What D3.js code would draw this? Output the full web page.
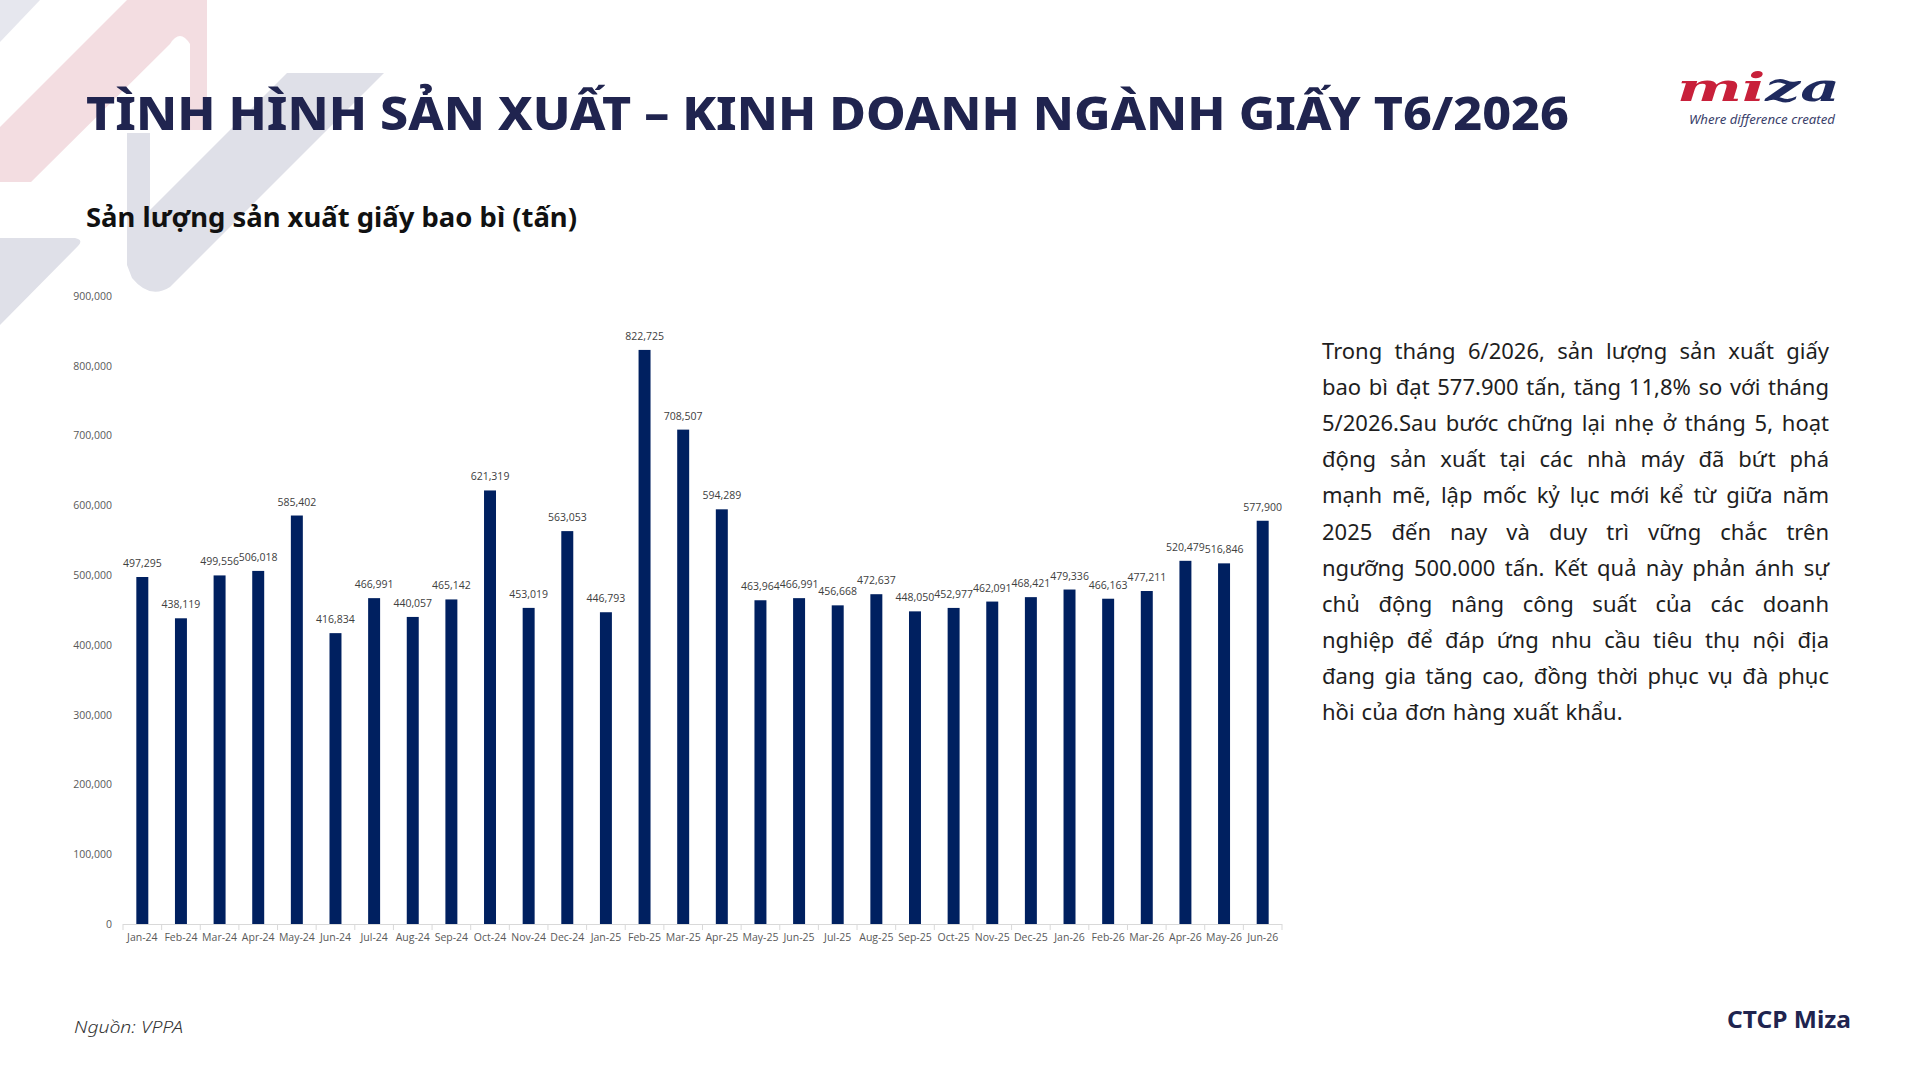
<!DOCTYPE html>
<html>
<head>
<meta charset="utf-8">
<script src="https://cdn.jsdelivr.net/npm/d3@7"></script>
<style>
  body { margin: 0; background: #fff; }
  svg { display: block; }
</style>
</head>
<body>
<svg width="1920" height="1080"></svg>
<script>
// The data:
const months = [
  'Jan-24', 'Feb-24', 'Mar-24', 'Apr-24', 'May-24', 'Jun-24', 'Jul-24', 'Aug-24', 'Sep-24', 'Oct-24',
  'Nov-24', 'Dec-24', 'Jan-25', 'Feb-25', 'Mar-25', 'Apr-25', 'May-25', 'Jun-25', 'Jul-25', 'Aug-25',
  'Sep-25', 'Oct-25', 'Nov-25', 'Dec-25', 'Jan-26', 'Feb-26', 'Mar-26', 'Apr-26', 'May-26', 'Jun-26',
]
const output = [
  497295, 438119, 499556, 506018, 585402, 416834, 466991, 440057, 465142, 621319,
  453019, 563053, 446793, 822725, 708507, 594289, 463964, 466991, 456668, 472637,
  448050, 452977, 462091, 468421, 479336, 466163, 477211, 520479, 516846, 577900,
]
const yTicks = [0, 100000, 200000, 300000, 400000, 500000, 600000, 700000, 800000, 900000]

const title = 'TÌNH HÌNH SẢN XUẤT – KINH DOANH NGÀNH GIẤY T6/2026'
const subtitle = 'Sản lượng sản xuất giấy bao bì (tấn)'
const bodyLines = [
  'Trong tháng 6/2026, sản lượng sản xuất giấy',
  'bao bì đạt 577.900 tấn, tăng 11,8% so với tháng',
  '5/2026.Sau bước chững lại nhẹ ở tháng 5, hoạt',
  'động sản xuất tại các nhà máy đã bứt phá',
  'mạnh mẽ, lập mốc kỷ lục mới kể từ giữa năm',
  '2025 đến nay và duy trì vững chắc trên',
  'ngưỡng 500.000 tấn. Kết quả này phản ánh sự',
  'chủ động nâng công suất của các doanh',
  'nghiệp để đáp ứng nhu cầu tiêu thụ nội địa',
  'đang gia tăng cao, đồng thời phục vụ đà phục',
  'hồi của đơn hàng xuất khẩu.',
]

const svg = d3.select('svg')
const navy = '#20244f'
const txtFont = '"Noto Sans", "Open Sans", sans-serif'
const axisFont = '"Open Sans", "Noto Sans", sans-serif'

// Background shapes in the top-left corner:
const deco = svg.append('g')
deco.append('path').attr('d', 'M0,0 L40,0 L0,42 Z').attr('fill', '#e6e7ee')
deco.append('path')
  .attr('d', 'M0,127 L127,0 L207,0 L207,130 L190,130 L190,44 Q180,28 170,44 L31,182 L0,182 Z')
  .attr('fill', '#f3dde1')
deco.append('path')
  .attr('d', 'M127,133 L150,133 L150,210 L287,73 L384,73 L170,287 Q150,300 132,278 L127,265 Z')
  .attr('fill', '#dfe0e8')
deco.append('path').attr('d', 'M0,238 L75,238 Q84,240 78,246 L0,325 Z').attr('fill', '#dfe0e8')

// Title and subtitle:
svg.append('text')
  .attr('x', 86).attr('y', 130)
  .attr('textLength', 1483).attr('lengthAdjust', 'spacingAndGlyphs')
  .style('font-family', txtFont).style('font-weight', 800).style('font-size', '47px')
  .attr('fill', navy)
  .text(title)

svg.append('text')
  .attr('x', 86).attr('y', 227)
  .attr('textLength', 491).attr('lengthAdjust', 'spacingAndGlyphs')
  .style('font-family', txtFont).style('font-weight', 700).style('font-size', '26px')
  .attr('fill', '#111')
  .text(subtitle)

// Logo:
const logo = svg.append('text')
  .attr('x', 1677).attr('y', 101)
  .attr('textLength', 163).attr('lengthAdjust', 'spacingAndGlyphs')
  .style('font-family', '"DejaVu Serif", serif').style('font-weight', 700)
  .style('font-style', 'italic').style('font-size', '40px')
logo.append('tspan').attr('fill', '#c8203a').text('mi')
logo.append('tspan').attr('fill', '#1f2a5e').text('za')

svg.append('text')
  .attr('x', 1689).attr('y', 124)
  .attr('textLength', 146).attr('lengthAdjust', 'spacingAndGlyphs')
  .style('font-family', txtFont).style('font-style', 'italic').style('font-size', '12px')
  .attr('fill', '#3b3f6b')
  .text('Where difference created')

// Scales:
let xScale = d3.scaleBand().domain(months).range([123, 1282]).paddingInner(0.69).paddingOuter(0.345)
let yScale = d3.scaleLinear().domain([0, 900000]).range([924, 296])

// Bars:
svg.append('g')
  .selectAll('rect')
  .data(months)
  .enter()
  .append('rect')
  .attr('x', (d) => xScale(d))
  .attr('y', (d, i) => yScale(output[i]))
  .attr('width', xScale.bandwidth())
  .attr('height', (d, i) => yScale(0) - yScale(output[i]))
  .attr('fill', '#002060')

// Value labels:
svg.append('g')
  .selectAll('text')
  .data(months)
  .enter()
  .append('text')
  .attr('x', (d) => xScale(d) + xScale.bandwidth() / 2)
  .attr('y', (d, i) => yScale(output[i]) - 10)
  .attr('text-anchor', 'middle')
  .style('font-family', axisFont).style('font-size', '10.5px')
  .attr('fill', '#404040')
  .text((d, i) => d3.format(',')(output[i]))

// Add x-axis:
let xAxis = d3.axisBottom(xScale).tickSize(0).tickPadding(10)
let xAxisG = svg.append('g').attr('transform', 'translate(0,924)').call(xAxis)
xAxisG.select('.domain').attr('stroke', '#d9d9d9').attr('d', 'M123,0.5H1282')
xAxisG.selectAll('text')
  .style('font-family', axisFont).style('font-size', '10.5px').attr('fill', '#595959')

// Tick marks between the categories:
const step = xScale.step()
xAxisG.selectAll('line.sep')
  .data(d3.range(months.length + 1))
  .enter()
  .append('line')
  .attr('class', 'sep')
  .attr('x1', (i) => 123 + i * step).attr('x2', (i) => 123 + i * step)
  .attr('y1', 0).attr('y2', 6)
  .attr('stroke', '#d9d9d9')

// Add y-axis:
let yAxis = d3.axisLeft(yScale).tickValues(yTicks).tickSize(0).tickPadding(11).tickFormat(d3.format(','))
let yAxisG = svg.append('g').attr('transform', 'translate(123,0)').call(yAxis)
yAxisG.select('.domain').remove()
yAxisG.selectAll('text')
  .style('font-family', axisFont).style('font-size', '10.5px').attr('fill', '#595959')

// Commentary text, justified between x=1322 and x=1829:
const left = 1322
const right = 1829
const body = svg.append('g')
  .style('font-family', txtFont).style('font-size', '22px').attr('fill', '#1e1e1e')

bodyLines.forEach((line, li) => {
  const y = 359 + li * 36.1
  const words = line.split(' ')
  const nodes = words.map((w) => body.append('text').attr('y', y).text(w))
  const widths = nodes.map((n) => n.node().getComputedTextLength())
  const isLast = li === bodyLines.length - 1
  const space = isLast ? 7 : (right - left - d3.sum(widths)) / (words.length - 1)
  let x = left
  nodes.forEach((n, i) => {
    n.attr('x', x)
    x += widths[i] + space
  })
})

// Footer:
svg.append('text')
  .attr('x', 74).attr('y', 1033)
  .attr('textLength', 109).attr('lengthAdjust', 'spacingAndGlyphs')
  .style('font-family', txtFont).style('font-style', 'italic').style('font-weight', 300)
  .style('font-size', '17px')
  .attr('fill', '#333')
  .text('Nguồn: VPPA')

svg.append('text')
  .attr('x', 1851).attr('y', 1028).attr('text-anchor', 'end')
  .attr('textLength', 124).attr('lengthAdjust', 'spacingAndGlyphs')
  .style('font-family', txtFont).style('font-weight', 700).style('font-size', '23px')
  .attr('fill', navy)
  .text('CTCP Miza')
</script>
</body>
</html>
